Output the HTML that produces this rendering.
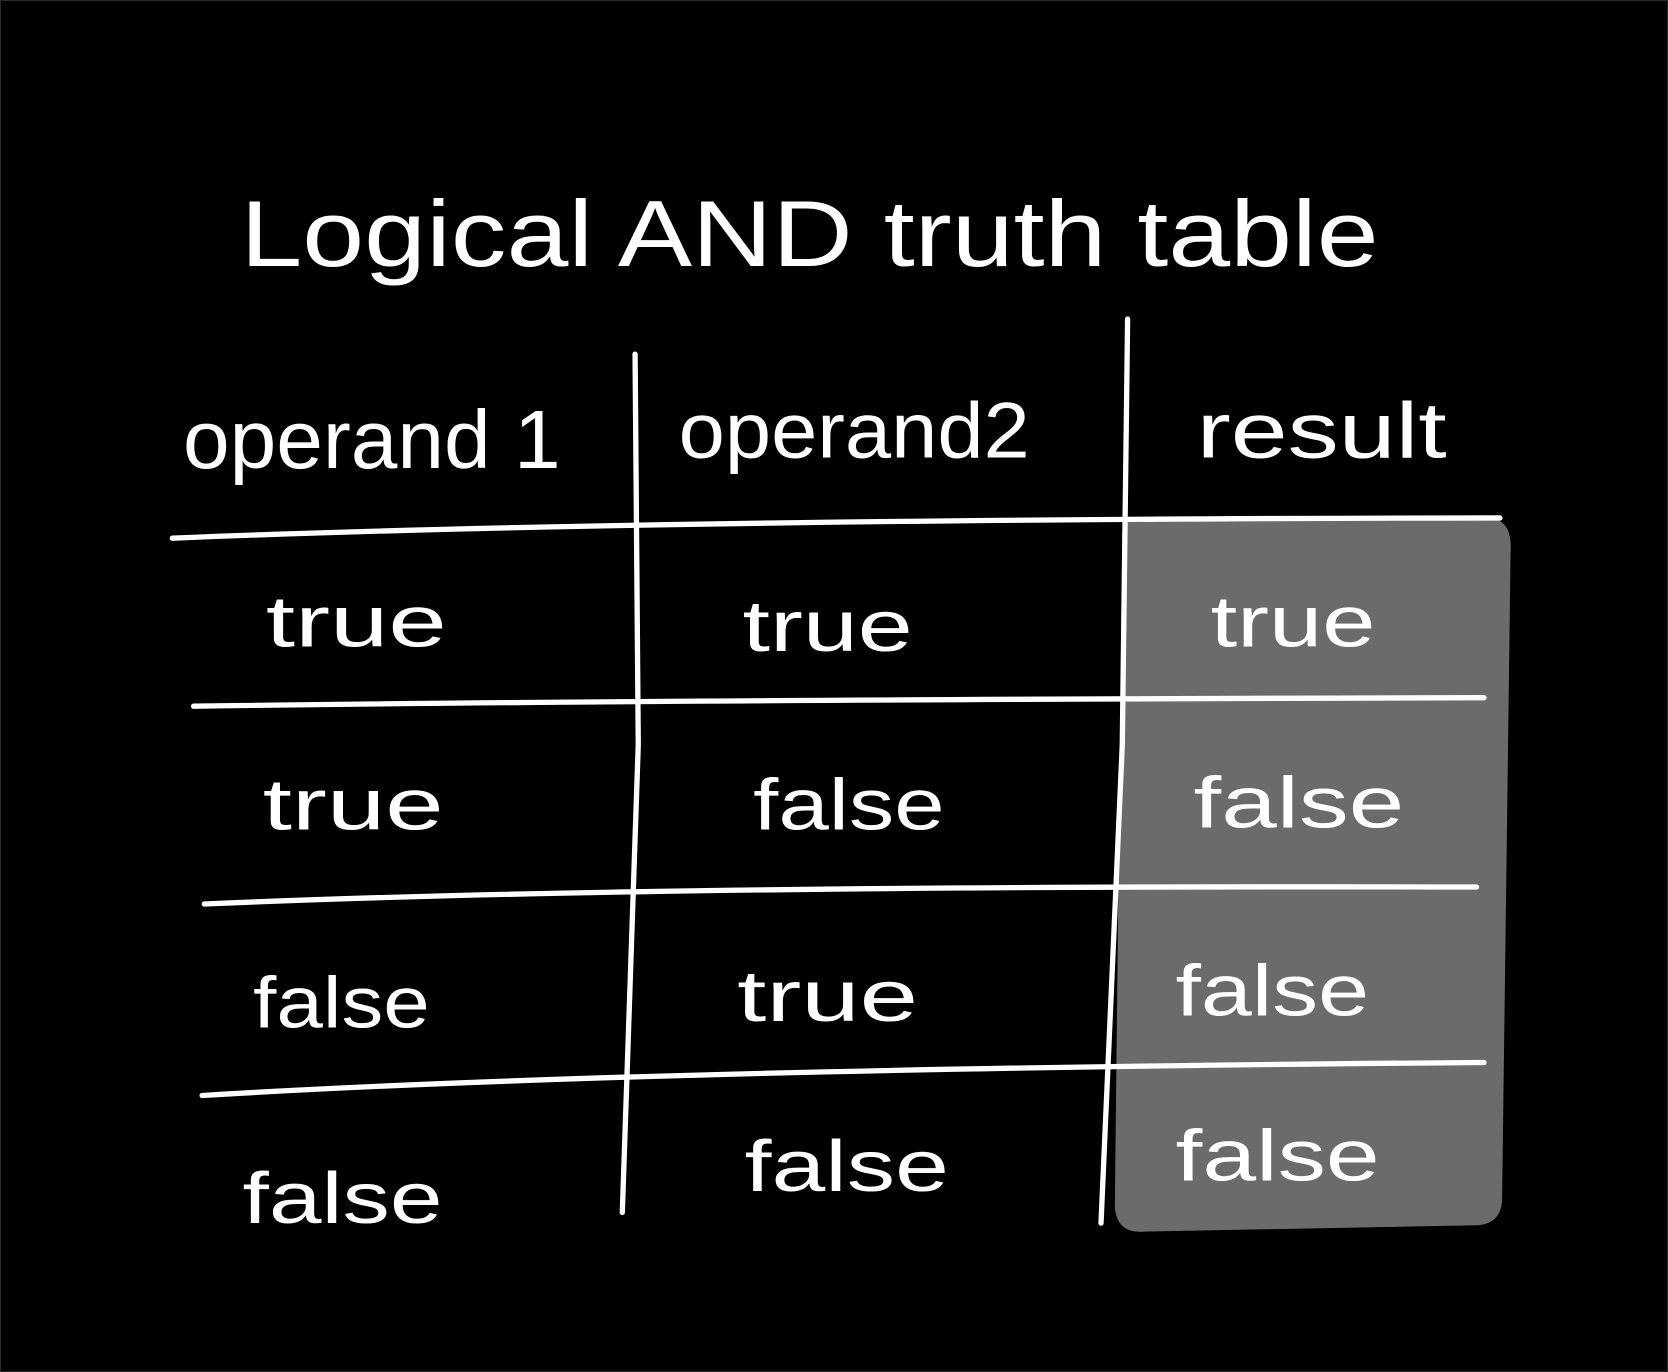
<!DOCTYPE html>
<html><head><meta charset="utf-8"><style>
html,body{margin:0;padding:0;background:#000;}
svg{display:block;}
text{font-family:"Liberation Sans",sans-serif;fill:#fff;}
</style></head><body>
<svg width="1668" height="1372" viewBox="0 0 1568 1290" preserveAspectRatio="none" xmlns="http://www.w3.org/2000/svg">
<rect x="0" y="0" width="1568" height="1290" fill="#000"/>
<rect x="0.5" y="0.5" width="1567" height="1289" fill="none" stroke="#2a2a2a" stroke-width="1"/>
<path d="M1058 488 L1405 488 Q1422 492 1420 520 L1412 1130 Q1410 1150 1390 1152 L1075 1158 Q1050 1160 1048 1135 L1055 500 Z" fill="#6b6b6b"/>
<g stroke="#fff" stroke-width="5" stroke-linecap="round" fill="none">
<path d="M597 333 L600 700 L585 1140"/>
<path d="M1060 300 L1055 700 L1035 1150"/>
<path d="M162 506 Q600 488 1410 487"/>
<path d="M182 664 Q600 658 1395 656"/>
<path d="M192 850 Q600 832 1388 834"/>
<path d="M190 1030 Q600 1005 1395 999"/>
</g>
<text x="226" y="250" font-size="88" textLength="1070" lengthAdjust="spacingAndGlyphs">Logical AND truth table</text>
<text x="172" y="440" font-size="78" textLength="355" lengthAdjust="spacingAndGlyphs">operand 1</text>
<text x="638" y="430" font-size="74" textLength="330" lengthAdjust="spacingAndGlyphs">operand2</text>
<text x="1125" y="430" font-size="74" textLength="235" lengthAdjust="spacingAndGlyphs">result</text>
<g font-size="68">
<text x="250" y="608" textLength="170" lengthAdjust="spacingAndGlyphs">true</text>
<text x="698" y="612" textLength="160" lengthAdjust="spacingAndGlyphs">true</text>
<text x="1138" y="608" textLength="155" lengthAdjust="spacingAndGlyphs">true</text>
<text x="247" y="780" textLength="170" lengthAdjust="spacingAndGlyphs">true</text>
<text x="708" y="780" textLength="180" lengthAdjust="spacingAndGlyphs">false</text>
<text x="1122" y="778" textLength="198" lengthAdjust="spacingAndGlyphs">false</text>
<text x="238" y="966" textLength="166" lengthAdjust="spacingAndGlyphs">false</text>
<text x="693" y="960" textLength="170" lengthAdjust="spacingAndGlyphs">true</text>
<text x="1105" y="955" textLength="182" lengthAdjust="spacingAndGlyphs">false</text>
<text x="228" y="1150" textLength="188" lengthAdjust="spacingAndGlyphs">false</text>
<text x="700" y="1120" textLength="192" lengthAdjust="spacingAndGlyphs">false</text>
<text x="1105" y="1110" textLength="192" lengthAdjust="spacingAndGlyphs">false</text>
</g>
</svg>
</body></html>
